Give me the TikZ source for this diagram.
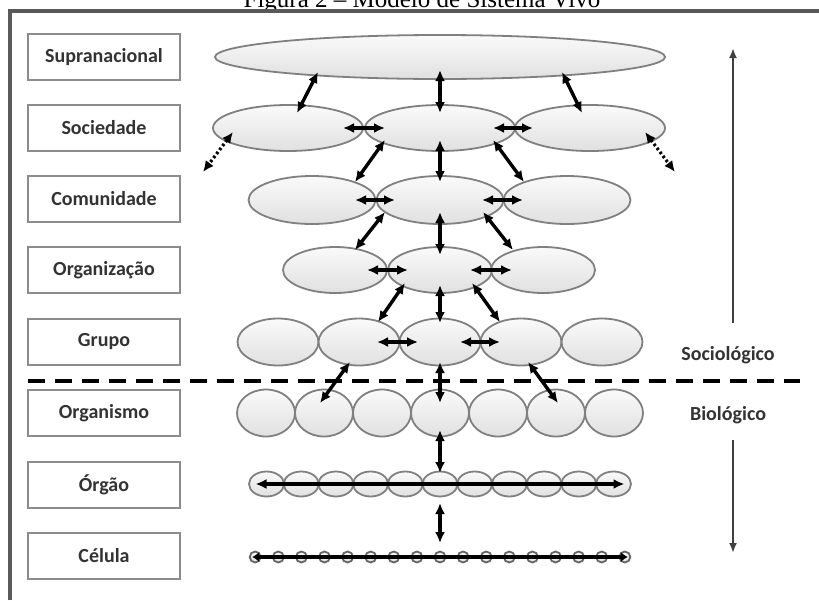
\documentclass[tikz,border=0pt]{standalone}
\usepackage{fontspec}
\setmainfont{Liberation Serif}
\newfontfamily\labfont{Carlito}
\usetikzlibrary{arrows.meta,calc,shapes.geometric}
\begin{document}
\begin{tikzpicture}[x=1pt,y=-1pt,
  lbl/.style={draw=black!45,line width=2pt,fill=white,minimum width=152pt,minimum height=46pt,inner sep=0pt,font=\labfont\bfseries\fontsize{20}{23}\selectfont,text=black!80},
  el/.style={ellipse,draw=black!50,line width=1.8pt,top color=gray!4,bottom color=gray!24,inner sep=0pt},
  ar/.style={{Latex[length=11pt,width=10pt]}-{Latex[length=11pt,width=10pt]},line width=3.4pt},
  dotar/.style={{Latex[length=11pt,width=10pt]}-{Latex[length=11pt,width=10pt]},line width=3.2pt,dash pattern=on 2.5pt off 2.5pt},
  side/.style={font=\labfont\bfseries\fontsize{20}{23}\selectfont,text=black!80,inner sep=1pt}
]
\useasboundingbox (0,0) rectangle (819,600);
% title (cut by the top edge)
\node[anchor=base,font=\fontsize{25}{28}\selectfont] (title) at (422,7) {Figura 2 -- Modelo de Sistema Vivo};
% frame
\draw[line width=4pt,black!65] (10,600) -- (10,10.5) -- (819,10.5);
% labels
\node[lbl] (lsup) at (104,57) {Supranacional};
\node[lbl] (lsoc) at (104,128) {Sociedade};
\node[lbl] (lcom) at (104,199) {Comunidade};
\node[lbl] (lorg) at (104,270) {Organização};
\node[lbl] (lgru) at (104,342) {Grupo};
\node[lbl] (loma) at (104,413) {Organismo};
\node[lbl] (logo) at (104,485) {Órgão};
\node[lbl] (lcel) at (104,556) {Célula};
% ellipses
\node[el,minimum width=450pt,minimum height=44pt] (sup) at (440,57) {};
\node[el,minimum width=150pt,minimum height=46pt] (soc1) at (288,128) {};
\node[el,minimum width=150pt,minimum height=46pt] (soc2) at (440,128) {};
\node[el,minimum width=150pt,minimum height=46pt] (soc3) at (590,128) {};
\node[el,minimum width=127pt,minimum height=48pt] (com1) at (312,200) {};
\node[el,minimum width=127pt,minimum height=48pt] (com2) at (440,200) {};
\node[el,minimum width=127pt,minimum height=48pt] (com3) at (567,200) {};
\node[el,minimum width=104pt,minimum height=46pt] (org1) at (335,270) {};
\node[el,minimum width=104pt,minimum height=46pt] (org2) at (440,270) {};
\node[el,minimum width=104pt,minimum height=46pt] (org3) at (543,270) {};
\foreach \i in {1,...,5}
  \node[el,minimum width=81pt,minimum height=47pt] (gr\i) at ({440+(\i-3)*81},342) {};
\foreach \i in {1,...,7}
  \node[el,minimum width=58pt,minimum height=47pt] (om\i) at ({440+(\i-4)*58},413) {};
\foreach \i in {1,...,11}
  \node[el,minimum width=35pt,minimum height=25pt] (og\i) at ({440+(\i-6)*34.7},484) {};
\foreach \i in {1,...,17}
  \node[el,draw=black!60,line width=1.8pt,minimum width=11pt,minimum height=11pt] (ce\i) at ({440+(\i-9)*23.1},557) {};
% dashed divider
\coordinate (dl) at (28,381);
\coordinate (dr) at (800,381);
\draw[line width=4pt,dash pattern=on 17pt off 10pt] (dl) -- (dr);
% supra - sociedade
\draw[ar] ($(sup)+(-122,15)$) -- ($(soc1)+(9,-15)$);
\draw[ar] ($(sup)+(0,13)$) -- ($(soc2)+(0,-15)$);
\draw[ar] ($(sup)+(122,15)$) -- ($(soc3)+(-8,-15)$);
% sociedade row
\draw[ar] ($(soc1)+(55,0)$) -- ($(soc2)+(-55,0)$);
\draw[ar] ($(soc2)+(53,0)$) -- ($(soc3)+(-57,0)$);
\coordinate (dotL) at (203,172);
\coordinate (dotR) at (675,172);
\draw[dotar] ($(soc1)+(-55,4)$) -- (dotL);
\draw[dotar] ($(soc3)+(55,4)$) -- (dotR);
% sociedade - comunidade
\draw[ar] ($(soc2)+(-55,12)$) -- ($(com1)+(43,-18)$);
\draw[ar] ($(soc2)+(0,12)$) -- ($(com2)+(0,-18)$);
\draw[ar] ($(soc2)+(53,12)$) -- ($(com3)+(-43,-18)$);
% comunidade row
\draw[ar] ($(com1)+(43,0)$) -- ($(com2)+(-45,0)$);
\draw[ar] ($(com2)+(42,0)$) -- ($(com3)+(-44,0)$);
% comunidade - organizacao
\draw[ar] ($(com2)+(-55,12)$) -- ($(org1)+(20,-20)$);
\draw[ar] ($(com2)+(0,12)$) -- ($(org2)+(0,-15)$);
\draw[ar] ($(com2)+(43,12)$) -- ($(org3)+(-30,-20)$);
% organizacao row
\draw[ar] ($(org1)+(32,0)$) -- ($(org2)+(-32,0)$);
\draw[ar] ($(org2)+(30,0)$) -- ($(org3)+(-31,0)$);
% organizacao - grupo
\draw[ar] ($(org2)+(-35,13)$) -- ($(gr2)+(19,-20)$);
\draw[ar] ($(org2)+(0,15)$) -- ($(gr3)+(0,-19)$);
\draw[ar] ($(org2)+(32,13)$) -- ($(gr4)+(-21,-20)$);
% grupo row
\draw[ar] ($(gr2)+(18,0)$) -- ($(gr3)+(-22,0)$);
\draw[ar] ($(gr3)+(20,0)$) -- ($(gr4)+(-21,0)$);
% grupo - organismo
\draw[ar] ($(gr2)+(-9,20)$) -- ($(om2)+(-4,-10)$);
\draw[ar] ($(gr3)+(0,20)$) -- ($(om4)+(0,-10)$);
\draw[ar] ($(gr4)+(7,20)$) -- ($(om6)+(2,-10)$);
% organismo - orgao - celula
\draw[ar] ($(om4)+(0,17)$) -- ($(og6)+(0,-11)$);
\draw[ar] ($(og1)+(-11,0)$) -- ($(og11)+(11,0)$);
\draw[ar] ($(og6)+(0,19)$) -- ($(ce9)+(0,-14)$);
\draw[{Latex[length=7pt,width=10pt]}-{Latex[length=7pt,width=10pt]},line width=3.4pt] ($(ce1)+(-3,0)$) -- ($(ce17)+(3,0)$);
% right side
\node[side] (socio) at (728,355) {Sociológico};
\node[side] (bio) at (728,415) {Biológico};
\draw[-{Latex[length=10pt,width=8pt]},line width=2.4pt,black!75] ($(socio)+(5,-32)$) -- ($(socio)+(5,-307)$);
\draw[-{Latex[length=10pt,width=8pt]},line width=2.4pt,black!75] ($(bio)+(5,25)$) -- ($(bio)+(5,138)$);
\end{tikzpicture}
\end{document}
